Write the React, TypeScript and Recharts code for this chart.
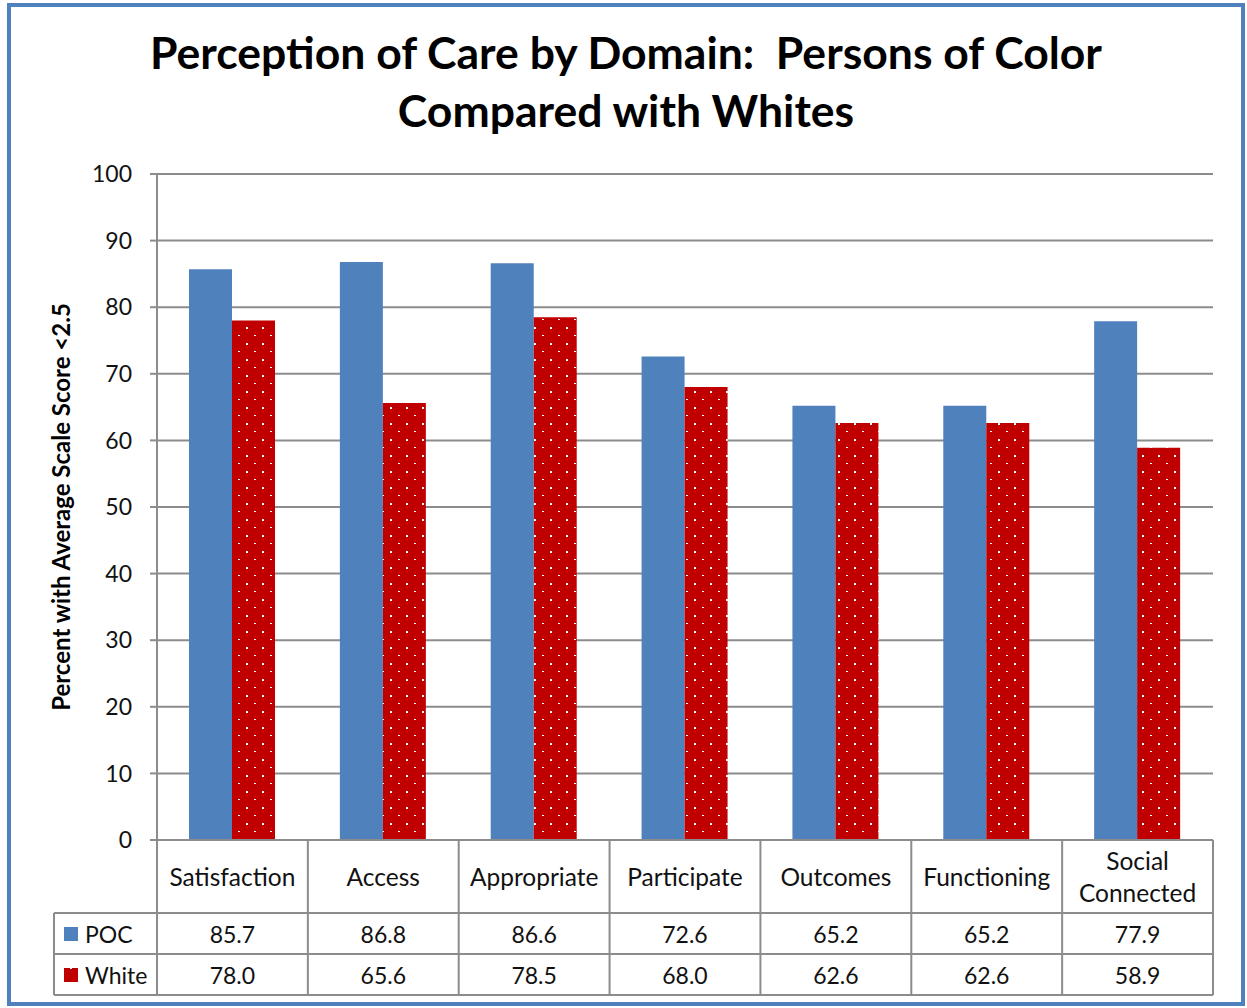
import React from 'react';
import { BarChart, Bar, XAxis, YAxis, CartesianGrid } from 'recharts';

const categories = ['Satisfaction', 'Access', 'Appropriate', 'Participate', 'Outcomes', 'Functioning', 'Social Connected'];
const pocValues = [85.7, 86.8, 86.6, 72.6, 65.2, 65.2, 77.9];
const whiteValues = [78.0, 65.6, 78.5, 68.0, 62.6, 62.6, 58.9];
const yTicks = [0, 10, 20, 30, 40, 50, 60, 70, 80, 90, 100];

const seriesNames = ['POC', 'White'];
const POC_COLOR = '#4f81bd';
const WHITE_COLOR = '#c00000';
const LINE = '#8c8c8c';
const FONT = 'Lato, "Open Sans", sans-serif';

const data = categories.map((name, i) => ({ name, poc: pocValues[i], white: whiteValues[i] }));

const W = 1247;
const H = 1008;

// Data table drawn under the plot; each tick draws its own column.
const ROW_LABEL_H = 73;
const ROW_H = 41;
const LEGEND_LEFT = 54;

const TableTick = (props: any) => {
  const { x, y, payload, index } = props;
  const half = payload.offset;
  const left = x - half;
  const right = x + half;
  const n = categories.length;
  const y1 = y + ROW_LABEL_H;
  const y2 = y1 + ROW_H;
  const y3 = y2 + ROW_H;
  const words = String(payload.value).split(' ');
  const lines = words.length > 1 ? words : [payload.value];
  const textStyle = { fontFamily: FONT, fontSize: 23, fill: '#111' };
  const labelStyle = { fontFamily: FONT, fontSize: 24.5, fill: '#111' };
  return (
    <g>
      {index === 0 && (
        <g>
          <line x1={LEGEND_LEFT} x2={left + 2 * half * n} y1={y1} y2={y1} stroke={LINE} strokeWidth={2} />
          <line x1={LEGEND_LEFT} x2={left + 2 * half * n} y1={y2} y2={y2} stroke={LINE} strokeWidth={2} />
          <line x1={LEGEND_LEFT} x2={left + 2 * half * n} y1={y3} y2={y3} stroke={LINE} strokeWidth={2} />
          <line x1={LEGEND_LEFT} x2={LEGEND_LEFT} y1={y1} y2={y3} stroke={LINE} strokeWidth={2} />
          <rect x={64} y={y1 + 14} width={14} height={14} fill={POC_COLOR} />
          <text x={85} y={y1 + ROW_H / 2} dominantBaseline="central" style={textStyle}>{seriesNames[0]}</text>
          <rect x={64} y={y2 + 14} width={14} height={14} fill="url(#whiteDots)" />
          <text x={85} y={y2 + ROW_H / 2} dominantBaseline="central" style={textStyle}>{seriesNames[1]}</text>
        </g>
      )}
      <line x1={left} x2={left} y1={y} y2={y3} stroke={LINE} strokeWidth={2} />
      {index === n - 1 && <line x1={right} x2={right} y1={y} y2={y3} stroke={LINE} strokeWidth={2} />}
      {lines.map((t: string, i: number) => (
        <text
          key={i}
          x={x}
          y={y + ROW_LABEL_H / 2 + (i - (lines.length - 1) / 2) * 32}
          textAnchor="middle"
          dominantBaseline="central"
          style={labelStyle}
        >
          {t}
        </text>
      ))}
      <text x={x} y={y1 + ROW_H / 2} textAnchor="middle" dominantBaseline="central" style={textStyle}>
        {pocValues[index].toFixed(1)}
      </text>
      <text x={x} y={y2 + ROW_H / 2} textAnchor="middle" dominantBaseline="central" style={textStyle}>
        {whiteValues[index].toFixed(1)}
      </text>
    </g>
  );
};

const YLabel = (props: any) => {
  const { viewBox } = props;
  const cy = viewBox.y + viewBox.height / 2;
  return (
    <text
      x={60}
      y={cy}
      transform={`rotate(-90, 60, ${cy})`}
      textAnchor="middle"
      dominantBaseline="central"
      style={{ fontFamily: FONT, fontSize: 24, fontWeight: 700, fill: '#000' }}
    >
      Percent with Average Scale Score &lt;2.5
    </text>
  );
};

export default function App() {
  return (
    <div style={{ position: 'absolute', left: 0, top: 0, width: W, height: H, background: '#fff', overflow: 'hidden' }}>
      <BarChart
        width={W}
        height={H}
        data={data}
        margin={{ top: 174, right: 34, bottom: 0, left: 1 }}
        barGap={0}
        barSize={43}
      >
        <defs>
          <pattern id="whiteDots" patternUnits="userSpaceOnUse" width={16} height={16}>
            <rect x={0} y={0} width={16} height={16} fill={WHITE_COLOR} />
            <rect x={6} y={7} width={2} height={2} fill="#fff" />
            <rect x={14} y={15} width={2} height={2} fill="#fff" />
          </pattern>
        </defs>
        <CartesianGrid vertical={false} stroke={LINE} strokeWidth={2} />
        <XAxis
          dataKey="name"
          height={168}
          axisLine={{ stroke: LINE, strokeWidth: 2 }}
          tickLine={false}
          tickSize={0}
          tickMargin={0}
          interval={0}
          tick={<TableTick />}
        />
        <YAxis
          width={156}
          domain={[0, 100]}
          ticks={yTicks}
          interval={0}
          axisLine={{ stroke: LINE, strokeWidth: 2 }}
          tickLine={{ stroke: LINE, strokeWidth: 2 }}
          tickSize={7}
          tickMargin={18}
          tick={{ fontFamily: FONT, fontSize: 23, fill: '#111' }}
          label={<YLabel />}
        />
        <Bar dataKey="poc" name="POC" fill={POC_COLOR} isAnimationActive={false} />
        <Bar dataKey="white" name="White" fill="url(#whiteDots)" isAnimationActive={false} />
      </BarChart>
      <div
        style={{
          position: 'absolute',
          left: 0,
          top: 23,
          width: 1252,
          textAlign: 'center',
          fontFamily: FONT,
          fontWeight: 700,
          fontSize: 44.5,
          lineHeight: '58px',
          color: '#000',
        }}
      >
        Perception of Care by Domain:&nbsp; Persons of Color
        <br />
        Compared with Whites
      </div>
      <div
        style={{
          position: 'absolute',
          left: 7,
          top: 3,
          width: 1230,
          height: 995,
          border: `4px solid ${POC_COLOR}`,
          pointerEvents: 'none',
        }}
      />
    </div>
  );
}
